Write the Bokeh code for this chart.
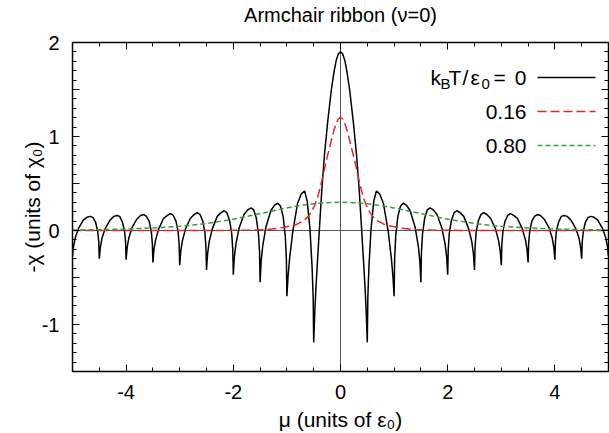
import numpy as np
from bokeh.plotting import figure
from bokeh.models import Range1d, FixedTicker, LinearAxis, Span, Label, Arrow
from bokeh.embed import file_html
from bokeh.resources import INLINE

# ---------------- data ----------------
mu_T0 = [
    -5.00, -4.98, -4.95, -4.89, -4.80, -4.73, -4.67, -4.62, -4.57, -4.53, -4.51,
    -4.50, -4.48, -4.45, -4.39, -4.30, -4.23, -4.17, -4.12, -4.07, -4.03, -4.01,
    -4.00, -3.98, -3.95, -3.89, -3.80, -3.73, -3.67, -3.62, -3.57, -3.53, -3.51,
    -3.50, -3.48, -3.45, -3.39, -3.30, -3.23, -3.17, -3.12, -3.07, -3.03, -3.01,
    -3.00, -2.98, -2.95, -2.89, -2.80, -2.73, -2.67, -2.62, -2.57, -2.53, -2.51,
    -2.50, -2.48, -2.45, -2.39, -2.30, -2.23, -2.17, -2.12, -2.07, -2.03, -2.01,
    -2.00, -1.98, -1.95, -1.89, -1.80, -1.73, -1.67, -1.62, -1.57, -1.53, -1.51,
    -1.50, -1.48, -1.45, -1.39, -1.30, -1.23, -1.17, -1.12, -1.07, -1.03, -1.01,
    -1.00, -0.98, -0.95, -0.89, -0.80, -0.73, -0.67, -0.62, -0.57, -0.53, -0.51,
    -0.50, -0.48, -0.46, -0.43, -0.39, -0.35, -0.30, -0.24, -0.17, -0.12, -0.08, -0.04,
    0.00, 0.04, 0.08, 0.12, 0.17, 0.24, 0.30, 0.35, 0.39, 0.43, 0.46, 0.48,
    0.50, 0.51, 0.53, 0.57, 0.62, 0.67, 0.73, 0.80, 0.89, 0.95, 0.98,
    1.00, 1.01, 1.03, 1.07, 1.12, 1.17, 1.23, 1.30, 1.39, 1.45, 1.48,
    1.50, 1.51, 1.53, 1.57, 1.62, 1.67, 1.73, 1.80, 1.89, 1.95, 1.98,
    2.00, 2.01, 2.03, 2.07, 2.12, 2.17, 2.23, 2.30, 2.39, 2.45, 2.48,
    2.50, 2.51, 2.53, 2.57, 2.62, 2.67, 2.73, 2.80, 2.89, 2.95, 2.98,
    3.00, 3.01, 3.03, 3.07, 3.12, 3.17, 3.23, 3.30, 3.39, 3.45, 3.48,
    3.50, 3.51, 3.53, 3.57, 3.62, 3.67, 3.73, 3.80, 3.89, 3.95, 3.98,
    4.00, 4.01, 4.03, 4.07, 4.12, 4.17, 4.23, 4.30, 4.39, 4.45, 4.48,
    4.50, 4.51, 4.53, 4.57, 4.62, 4.67, 4.73, 4.80, 4.89, 4.95, 4.98,
    5.00,
]
chi_T0 = [
    -0.27, -0.17, -0.08, 0.02, 0.11, 0.14, 0.15, 0.14, 0.09, -0.01, -0.12,
    -0.30, -0.18, -0.08, 0.02, 0.11, 0.15, 0.16, 0.15, 0.09, 0.00, -0.12,
    -0.31, -0.18, -0.08, 0.03, 0.12, 0.16, 0.17, 0.15, 0.10, -0.01, -0.14,
    -0.34, -0.20, -0.10, 0.02, 0.13, 0.16, 0.18, 0.16, 0.10, -0.01, -0.15,
    -0.37, -0.22, -0.11, 0.02, 0.13, 0.17, 0.19, 0.17, 0.10, -0.02, -0.18,
    -0.42, -0.25, -0.12, 0.02, 0.15, 0.19, 0.21, 0.19, 0.11, -0.03, -0.20,
    -0.47, -0.28, -0.14, 0.03, 0.17, 0.22, 0.24, 0.22, 0.13, -0.04, -0.23,
    -0.55, -0.32, -0.16, 0.04, 0.21, 0.27, 0.29, 0.26, 0.15, -0.06, -0.30,
    -0.70, -0.50, -0.30, -0.01, 0.29, 0.39, 0.42, 0.31, 0.02, -0.39, -0.71,
    -1.19, -0.87, -0.63, -0.33, 0.05, 0.42, 0.80, 1.15, 1.50, 1.69, 1.81, 1.88,
    1.90, 1.88, 1.81, 1.69, 1.50, 1.15, 0.80, 0.42, 0.05, -0.33, -0.63, -0.87,
    -1.19, -0.71, -0.39, 0.02, 0.31, 0.42, 0.39, 0.29, -0.01, -0.30, -0.50,
    -0.70, -0.30, -0.06, 0.15, 0.26, 0.29, 0.27, 0.21, 0.04, -0.16, -0.32,
    -0.55, -0.23, -0.04, 0.13, 0.22, 0.24, 0.22, 0.17, 0.03, -0.14, -0.28,
    -0.47, -0.20, -0.03, 0.11, 0.19, 0.21, 0.19, 0.15, 0.02, -0.12, -0.25,
    -0.42, -0.18, -0.02, 0.10, 0.17, 0.19, 0.17, 0.13, 0.02, -0.11, -0.22,
    -0.37, -0.15, -0.01, 0.10, 0.16, 0.18, 0.16, 0.13, 0.02, -0.10, -0.20,
    -0.34, -0.14, -0.01, 0.10, 0.15, 0.17, 0.16, 0.12, 0.03, -0.08, -0.18,
    -0.31, -0.12, 0.00, 0.09, 0.15, 0.16, 0.15, 0.11, 0.02, -0.08, -0.18,
    -0.30, -0.12, -0.01, 0.09, 0.14, 0.15, 0.14, 0.11, 0.02, -0.08, -0.17,
    -0.27,
]

mu_T016 = [-5.0, -4.0, -3.0, -2.2, -1.7, -1.4, -1.2, -1.1, -1.0, -0.9, -0.8, -0.7,
           -0.6, -0.54, -0.48, -0.44, -0.39, -0.34, -0.29, -0.24, -0.17, -0.12,
           -0.08, -0.04, 0.0, 0.04, 0.08, 0.12, 0.17, 0.24, 0.29, 0.34, 0.39,
           0.44, 0.48, 0.54, 0.6, 0.7, 0.8, 0.9, 1.0, 1.1, 1.2, 1.4, 1.7, 2.2,
           3.0, 4.0, 5.0]
chi_T016 = [0.0, 0.0, 0.0, 0.001, 0.004, 0.01, 0.02, 0.03, 0.04, 0.05, 0.07, 0.10,
            0.15, 0.20, 0.27, 0.33, 0.43, 0.55, 0.68, 0.80, 0.96, 1.07,
            1.14, 1.187, 1.20, 1.187, 1.14, 1.07, 0.96, 0.80, 0.68, 0.55, 0.43,
            0.33, 0.27, 0.20, 0.15, 0.10, 0.07, 0.05, 0.04, 0.03, 0.02, 0.01, 0.004, 0.001,
            0.0, 0.0, 0.0]

mu_T080 = [-5.0, -4.5, -4.0, -3.5, -3.0, -2.75, -2.5, -2.25, -2.0, -1.75, -1.5, -1.25,
           -1.0, -0.75, -0.5, -0.25, 0.0, 0.25, 0.5, 0.75, 1.0, 1.25, 1.5, 1.75,
           2.0, 2.25, 2.5, 2.75, 3.0, 3.5, 4.0, 4.5, 5.0]
chi_T080 = [0.005, 0.009, 0.016, 0.027, 0.045, 0.058, 0.075, 0.097, 0.12, 0.15, 0.18, 0.21,
            0.24, 0.265, 0.285, 0.296, 0.30, 0.296, 0.285, 0.265, 0.24, 0.21, 0.18, 0.15,
            0.12, 0.097, 0.075, 0.058, 0.045, 0.027, 0.016, 0.009, 0.005]

x_major_ticks = [-4, -2, 0, 2, 4]
x_tick_labels = {-4: "-4", -2: "-2", 0: "0", 2: "2", 4: "4"}
y_major_ticks = [-1.5, -1, -0.5, 0, 0.5, 1, 1.5, 2]
y_tick_labels = {-1.5: "", -1: "-1", -0.5: "", 0: "0", 0.5: "", 1: "1", 1.5: "", 2: "2"}

legend_values = ["0.16", "0.80"]
title_text = "Armchair ribbon (\u03bd=0)"

# ---------------- styling ----------------
FONT = "Liberation Sans"
RED = "#e3262b"
GREEN = "#3c9c46"

p = figure(width=609, height=433, x_range=Range1d(-5, 5), y_range=Range1d(-1.5, 2),
           output_backend="svg", toolbar_location=None,
           min_border_left=72, min_border_right=1, min_border_top=41, min_border_bottom=61,
           background_fill_color="white", border_fill_color="white")
p.grid.visible = False
p.outline_line_color = "black"
p.outline_line_width = 1.5

# zero lines
p.add_layout(Span(location=0, dimension="width", line_color="#555555", line_width=1, level="underlay"))
p.add_layout(Span(location=0, dimension="height", line_color="#555555", line_width=1, level="underlay"))

# curves
p.line(mu_T0, chi_T0, line_color="black", line_width=1.5)
p.line(mu_T016, chi_T016, line_color=RED, line_width=1.5, line_dash="9 4")
p.line(mu_T080, chi_T080, line_color=GREEN, line_width=1.5, line_dash="5 3")

x_minor = [round(v, 2) for v in np.arange(-5, 5.001, 0.5)]
y_minor = [round(v, 2) for v in np.arange(-1.5, 2.001, 0.1)]


def style(ax):
    ax.axis_line_color = None
    ax.major_tick_in = 7
    ax.major_tick_out = 0
    ax.minor_tick_in = 4
    ax.minor_tick_out = 0
    ax.major_tick_line_color = "black"
    ax.minor_tick_line_color = "black"
    ax.major_tick_line_width = 1
    ax.minor_tick_line_width = 1
    ax.major_label_text_font = FONT
    ax.major_label_text_font_size = "20px"
    ax.major_label_text_color = "black"
    ax.axis_label_text_font = FONT
    ax.axis_label_text_font_size = "21px"
    ax.axis_label_text_font_style = "normal"
    ax.axis_label_text_color = "black"


def mirror(ax):
    # tick marks only, no tick labels (gnuplot-style mirrored tics)
    ax.major_label_text_color = None
    ax.major_label_text_font_size = "1px"
    ax.major_label_standoff = 0
    ax.major_label_overrides = {t: "" for t in ax.ticker.ticks}


xax = p.xaxis[0]
xax.ticker = FixedTicker(ticks=x_major_ticks, minor_ticks=x_minor)
style(xax)
xax.major_label_overrides = x_tick_labels
xax.major_label_standoff = 13
xax.axis_label = "\u03bc (units of \u03b5\u2080)"
xax.axis_label_standoff = 6

yax = p.yaxis[0]
yax.ticker = FixedTicker(ticks=y_major_ticks, minor_ticks=y_minor)
style(yax)
yax.major_label_overrides = y_tick_labels
yax.major_label_standoff = 13
yax.axis_label = "-\u03c7 (units of \u03c7\u2080)"
yax.axis_label_standoff = -5

# top axis: mirrored ticks, and it carries the chart title as its label
top = LinearAxis(ticker=FixedTicker(ticks=x_major_ticks, minor_ticks=x_minor))
style(top)
mirror(top)
top.axis_label = title_text
top.axis_label_text_font_size = "20px"
top.axis_label_standoff = 17
p.add_layout(top, "above")

right = LinearAxis(ticker=FixedTicker(ticks=y_major_ticks, minor_ticks=y_minor))
style(right)
mirror(right)
p.add_layout(right, "right")

# ---------------- key (screen units, relative to the frame) ----------------
row_y = [294, 260, 226]
text_right = 454
line_x0, line_x1 = 465, 523


def lab(x, y, text, size="21px", align="left"):
    p.add_layout(Label(x=x, y=y, x_units="screen", y_units="screen", text=text,
                       text_font=FONT, text_font_size=size, text_color="black",
                       text_align=align, text_baseline="middle"))


lab(358, row_y[0], "k")
lab(368, row_y[0] - 6, "B", size="15px")
lab(376, row_y[0], "T")
lab(390, row_y[0], "/")
lab(398, row_y[0], "\u03b5")
lab(409, row_y[0] - 6, "0", size="15px")
lab(421, row_y[0], "=")
lab(text_right, row_y[0], "0", align="right")
lab(text_right, row_y[1], legend_values[0], align="right")
lab(text_right, row_y[2], legend_values[1], align="right")

for yy, col, dash in [(row_y[0], "black", "solid"), (row_y[1], RED, "9 4"), (row_y[2], GREEN, "5 3")]:
    p.add_layout(Arrow(x_start=line_x0, y_start=yy, x_end=line_x1, y_end=yy,
                       start_units="screen", end_units="screen", end=None,
                       line_color=col, line_width=1.5, line_dash=dash))

open("out.html", "w").write(file_html(p, INLINE))
